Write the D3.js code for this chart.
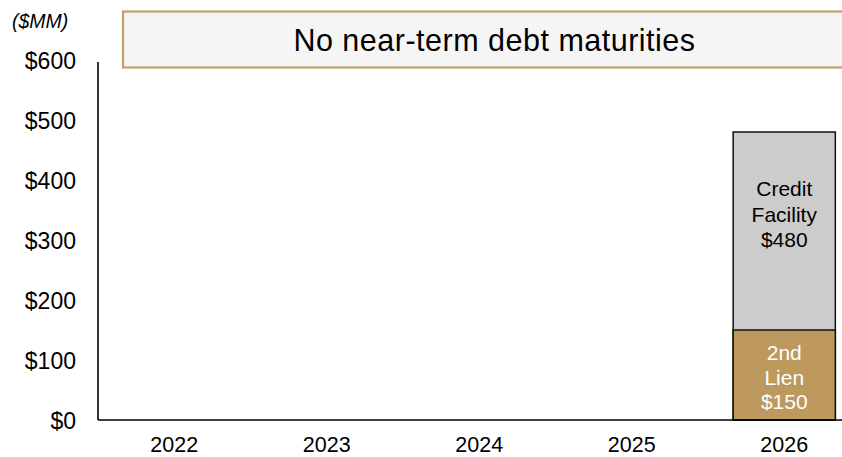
<!DOCTYPE html>
<html>
<head>
<meta charset="utf-8">
<script src="https://cdn.jsdelivr.net/npm/d3@7"></script>
<style>
  html, body { margin: 0; padding: 0; background: #fff; }
  svg { display: block; font-family: "Liberation Sans", Arial, sans-serif; }
</style>
</head>
<body>
<svg id="chart" width="842" height="457"></svg>
<script>
// Debt maturity schedule ($MM)
const years = ["2022", "2023", "2024", "2025", "2026"];
const creditFacility = [0, 0, 0, 0, 480];
const secondLien = [0, 0, 0, 0, 150];
const yTicks = [0, 100, 200, 300, 400, 500, 600];
const creditLabel = ["Credit", "Facility", "$480"];
const lienLabel = ["2nd", "Lien", "$150"];
const headline = "No near-term debt maturities";
const unitLabel = "($MM)";

const svg = d3.select("#chart");
const plotLeft = 98, plotBottom = 420, plotTop = 60, plotRight = 860.5;
const FONT = "\"Liberation Sans\", Arial, sans-serif";

const x = d3.scaleBand().domain(years).range([plotLeft, plotRight]).paddingInner(0.33).paddingOuter(0.165);
const y = d3.scaleLinear().domain([0, 600]).range([plotBottom, plotTop]);

// Headline banner
svg.append("rect")
  .attr("x", 123).attr("y", 11.5).attr("width", 730).attr("height", 56)
  .attr("fill", "#f5f5f5").attr("stroke", "#c4a160").attr("stroke-width", 2.2);
svg.append("text")
  .attr("x", 494.5).attr("y", 50.5)
  .attr("text-anchor", "middle")
  .attr("font-size", 30.5)
  .attr("letter-spacing", 0.5)
  .attr("fill", "#000")
  .text(headline);

svg.append("text")
  .attr("x", 12).attr("y", 28)
  .attr("font-size", 19.5).attr("font-style", "italic")
  .text(unitLabel);

// Bars: credit facility drawn from zero, 2nd lien overlaid at the base
const barData = years.map((yr, i) => ({ yr, cf: creditFacility[i], sl: secondLien[i] }));

svg.selectAll("rect.cf").data(barData.filter(d => d.cf > 0)).enter().append("rect")
  .attr("class", "cf")
  .attr("x", d => x(d.yr)).attr("width", x.bandwidth())
  .attr("y", d => y(d.cf)).attr("height", d => y(0) - y(d.cf))
  .attr("fill", "#cccccc").attr("stroke", "#111").attr("stroke-width", 1.5);

svg.selectAll("rect.sl").data(barData.filter(d => d.sl > 0)).enter().append("rect")
  .attr("class", "sl")
  .attr("x", d => x(d.yr)).attr("width", x.bandwidth())
  .attr("y", d => y(d.sl)).attr("height", d => y(0) - y(d.sl))
  .attr("fill", "#bd995e").attr("stroke", "#111").attr("stroke-width", 1.5);

// Bar labels
barData.filter(d => d.cf > 0).forEach(d => {
  const cx = x(d.yr) + x.bandwidth() / 2;
  const t = svg.append("text").attr("text-anchor", "middle").attr("font-size", 21).attr("fill", "#000");
  creditLabel.forEach((s, k) => t.append("tspan").attr("x", cx).attr("y", y(d.cf) + 64 + k * 25.5).text(s));
});
barData.filter(d => d.sl > 0).forEach(d => {
  const cx = x(d.yr) + x.bandwidth() / 2;
  const t = svg.append("text").attr("text-anchor", "middle").attr("font-size", 21).attr("fill", "#fff");
  lienLabel.forEach((s, k) => t.append("tspan").attr("x", cx).attr("y", y(d.sl) + 30 + k * 24.5).text(s));
});

// Y axis
const yAxis = svg.append("g").attr("transform", `translate(${plotLeft},0)`)
  .call(d3.axisLeft(y).tickValues(yTicks).tickSize(0).tickPadding(22).tickFormat(v => "$" + v));
yAxis.select(".domain").attr("stroke", "#000").attr("stroke-width", 1.6).attr("d", `M0,${plotBottom}V${plotTop + 2}`);
yAxis.selectAll("text").attr("font-size", 23).attr("fill", "#000")
  .attr("font-family", FONT).attr("dy", "0.35em");

// X axis
const xAxis = svg.append("g").attr("transform", `translate(0,${plotBottom})`)
  .call(d3.axisBottom(x).tickSize(0).tickPadding(16.5));
xAxis.select(".domain").attr("stroke", "#000").attr("stroke-width", 1.6).attr("d", `M${plotLeft},0H842`);
xAxis.selectAll("text").attr("font-size", 21.5).attr("fill", "#000")
  .attr("font-family", FONT);
</script>
</body>
</html>
